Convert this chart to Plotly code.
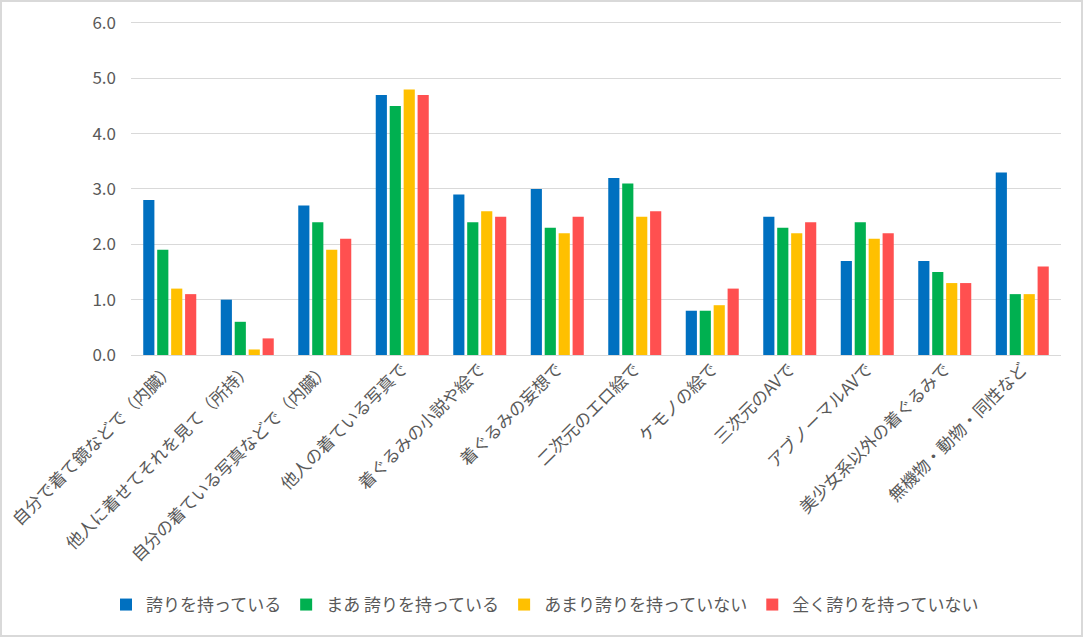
import plotly.graph_objects as go

categories = [
    "自分で着て鏡などで（内臓）",
    "他人に着せてそれを見て（所持）",
    "自分の着ている写真などで（内臓）",
    "他人の着ている写真で",
    "着ぐるみの小説や絵で",
    "着ぐるみの妄想で",
    "二次元のエロ絵で",
    "ケモノの絵で",
    "三次元のAVで",
    "アブノーマルAVで",
    "美少女系以外の着ぐるみで",
    "無機物・動物・同性など",
]
series_names = ["誇りを持っている", "まあ 誇りを持っている", "あまり誇りを持っていない", "全く誇りを持っていない"]
s1 = [2.8, 1.0, 2.7, 4.7, 2.9, 3.0, 3.2, 0.8, 2.5, 1.7, 1.7, 3.3]
s2 = [1.9, 0.6, 2.4, 4.5, 2.4, 2.3, 3.1, 0.8, 2.3, 2.4, 1.5, 1.1]
s3 = [1.2, 0.1, 1.9, 4.8, 2.6, 2.2, 2.5, 0.9, 2.2, 2.1, 1.3, 1.1]
s4 = [1.1, 0.3, 2.1, 4.7, 2.5, 2.5, 2.6, 1.2, 2.4, 2.2, 1.3, 1.6]
colors = ["#0070C0", "#00B050", "#FFC000", "#FF5050"]
yticks = [0, 1, 2, 3, 4, 5, 6]

FONT = "Noto Sans CJK JP"
W, H = 1084, 638
ml, mr, mt, mb = 131, 23, 20, 283
pw, ph = W - ml - mr, H - mt - mb

fig = go.Figure()
for name, vals, c in zip(series_names, [s1, s2, s3, s4], colors):
    fig.add_trace(go.Bar(x=categories, y=vals, name=name, marker=dict(color=c, line=dict(width=0))))

fig.update_layout(
    width=W, height=H,
    margin=dict(l=ml, r=mr, t=mt, b=mb, autoexpand=False),
    paper_bgcolor="white", plot_bgcolor="white",
    font=dict(family=FONT, size=17, color="#595959"),
    barmode="group", bargap=0.28, bargroupgap=0.2,
    showlegend=True,
    legend=dict(orientation="h", x=(545 - ml) / pw, xanchor="center", y=-(605 - 355) / ph, yanchor="middle",
                font=dict(family=FONT, size=17, color="#595959"), itemwidth=30,
                traceorder="normal"),
    xaxis=dict(tickangle=-45, showgrid=False, showline=False, ticks="",
               tickfont=dict(family=FONT, size=17, color="#595959")),
    yaxis=dict(range=[0, 6.054], tickvals=yticks, tickformat=".1f", showgrid=True,
               gridcolor="#D9D9D9", gridwidth=1, zeroline=True, zerolinecolor="#D9D9D9",
               zerolinewidth=1, ticks="", showline=False, ticklabelstandoff=14,
               tickfont=dict(family=FONT, size=17, color="#595959")),
)
fig.add_shape(type="rect", xref="paper", yref="paper",
              x0=-(ml - 1) / pw, x1=(W - ml - 2) / pw,
              y0=-(mb - 2) / ph, y1=1 + (mt - 1) / ph,
              line=dict(color="#D9D9D9", width=2), fillcolor="rgba(0,0,0,0)", layer="below")
fig.write_html("out.html")
